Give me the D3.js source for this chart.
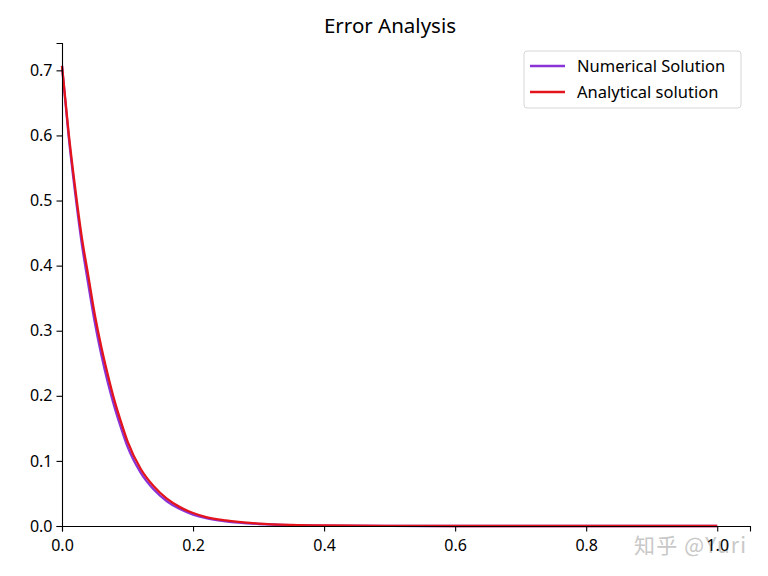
<!DOCTYPE html>
<meta charset="utf-8">
<style>
  body { margin: 0; background: #fff; }
  text { font-family: "Noto Sans", "DejaVu Sans", sans-serif; fill: #000; }
  .tick text { font-size: 16px; }
</style>
<svg width="768" height="576"></svg>
<script src="https://cdn.jsdelivr.net/npm/d3@7"></script>
<script>
// values
var xs = [0, 0.01, 0.02, 0.03, 0.04, 0.05, 0.06, 0.07, 0.08, 0.09, 0.10, 0.12, 0.14, 0.16, 0.18, 0.20, 0.22, 0.25, 0.30, 0.35, 0.40, 0.50, 0.60, 0.70, 0.80, 0.90, 1.00];
var analytical = [0.707, 0.605, 0.520, 0.445, 0.385, 0.325, 0.275, 0.232, 0.193, 0.160, 0.130, 0.088, 0.061, 0.042, 0.029, 0.020, 0.0138, 0.0085, 0.0038, 0.0017, 0.0008, 0.0002, 0, 0, 0, 0, 0];
var numerical  = [0.707, 0.600, 0.512, 0.435, 0.372, 0.313, 0.263, 0.220, 0.183, 0.151, 0.122, 0.082, 0.056, 0.038, 0.026, 0.0175, 0.012, 0.0072, 0.0031, 0.0013, 0.0006, 0.0001, 0, 0, 0, 0, 0];
var xTicks = [0, 0.2, 0.4, 0.6, 0.8, 1.0];
var yTicks = [0, 0.1, 0.2, 0.3, 0.4, 0.5, 0.6, 0.7];
var seriesNames = ["Numerical Solution", "Analytical solution"];
var seriesColors = ["#8a33d6", "#e3141c"];

var svg = d3.select("svg");

var x = d3.scaleLinear().domain([0, 1.05]).range([62, 750]);
var y = d3.scaleLinear().domain([0, 0.742]).range([526, 43]);

svg.append("text")
    .attr("x", 390).attr("y", 33)
    .attr("text-anchor", "middle")
    .style("font-size", "20.5px")
    .text("Error Analysis");

// watermark
svg.append("text")
    .attr("x", 634).attr("y", 553)
    .style("font-family", "'Noto Sans CJK SC', sans-serif")
    .style("font-size", "21px")
    .style("letter-spacing", "1.2px")
    .style("fill", "#c8c8c8")
    .text("知乎 @Yuri");

var line = d3.line()
    .x(function(d, i) { return x(xs[i]); })
    .y(function(d) { return y(d); })
    .curve(d3.curveMonotoneX);

svg.append("path").datum(numerical)
    .attr("d", line)
    .attr("fill", "none")
    .attr("stroke", seriesColors[0])
    .attr("stroke-width", 2.3);

svg.append("path").datum(analytical)
    .attr("d", line)
    .attr("fill", "none")
    .attr("stroke", seriesColors[1])
    .attr("stroke-width", 2.3);

var xAxis = svg.append("g")
    .attr("transform", "translate(0,526)")
    .call(d3.axisBottom(x).tickValues(xTicks).tickFormat(d3.format(".1f")).tickSizeOuter(0).tickSize(5.5).tickPadding(4));
xAxis.selectAll("text").attr("dy", "0.95em");

var yAxis = svg.append("g")
    .attr("transform", "translate(62,0)")
    .call(d3.axisLeft(y).tickValues(yTicks).tickFormat(d3.format(".1f")).tickSizeOuter(0).tickSize(5.5).tickPadding(4));

svg.selectAll(".domain").attr("stroke", "#000").attr("stroke-width", 1.1);
svg.selectAll(".tick line").attr("stroke", "#000").attr("stroke-width", 1.1);

// legend
var lg = svg.append("g");
lg.append("rect")
    .attr("x", 524).attr("y", 51)
    .attr("width", 217).attr("height", 57)
    .attr("rx", 3)
    .attr("fill", "#fff")
    .attr("fill-opacity", 0.8)
    .attr("stroke", "#d6d6d6");

seriesNames.forEach(function(name, i) {
  var cy = 66 + i * 26;
  lg.append("line")
      .attr("x1", 530).attr("x2", 565)
      .attr("y1", cy).attr("y2", cy)
      .attr("stroke", seriesColors[i])
      .attr("stroke-width", 2.3);
  lg.append("text")
      .attr("x", 577).attr("y", cy)
      .attr("dy", "0.35em")
      .style("font-size", "16.5px")
      .text(name);
});
</script>
